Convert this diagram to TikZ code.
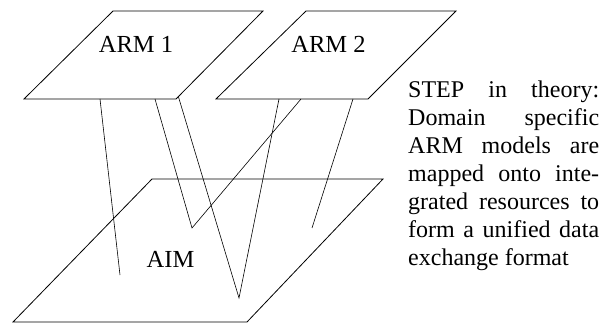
\documentclass[tikz,border=0pt]{standalone}
\usepackage{fontspec}
\setmainfont{Liberation Serif}
\begin{document}
\begin{tikzpicture}[x=1pt,y=-1pt,
  plane/.style={draw=black,line width=0.8pt,line join=miter},
  link/.style={draw=black,line width=0.6pt},
  lbl/.style={font=\fontsize{24.5}{28}\selectfont,anchor=base,inner sep=0pt}]
\useasboundingbox (0,0) rectangle (611,326);
% planes
\coordinate (a1a) at (113,11); \coordinate (a1b) at (263,11);
\coordinate (a1c) at (176,99); \coordinate (a1d) at (24,99);
\coordinate (a2a) at (306,11); \coordinate (a2b) at (456,11);
\coordinate (a2c) at (368,99); \coordinate (a2d) at (216,99);
\coordinate (ima) at (152,179); \coordinate (imb) at (383,179);
\coordinate (imc) at (247,322); \coordinate (imd) at (13,322);
\draw[plane] (ima) -- (imb) -- (imc) -- (imd) -- cycle;
\draw[plane] (a1a) -- (a1b) -- (a1c) -- (a1d) -- cycle;
\draw[plane] (a2a) -- (a2b) -- (a2c) -- (a2d) -- cycle;
% labels
\node[lbl] (arm1) at (136,53) {ARM 1};
\node[lbl] (arm2) at (328.5,53) {ARM 2};
\node[lbl] (aim) at (170.5,267) {AIM};
% link points
\coordinate (p1) at (100,99);  \coordinate (q1) at (120,275);
\coordinate (p2) at (155,99);  \coordinate (q2) at (192,228); \coordinate (r2) at (301,99);
\coordinate (p3) at (178.5,97); \coordinate (q3) at (239,298); \coordinate (r3) at (279,99);
\coordinate (p4) at (353,99);  \coordinate (q4) at (312,228);
\draw[link] (p1) -- (q1);
\draw[link] (p2) -- (q2) -- (r2);
\draw[link] (p3) -- (q3) -- (r3);
\draw[link] (p4) -- (q4);
% description
\node[anchor=base west,inner sep=0pt] (desc) at (408,97.5) {\parbox[t]{191pt}{\fontsize{24}{28}\selectfont
STEP in theory:\linebreak Domain specific\linebreak ARM models are\linebreak mapped onto inte-\linebreak grated resources to\linebreak form a unified data\linebreak exchange format}};
\end{tikzpicture}
\end{document}
